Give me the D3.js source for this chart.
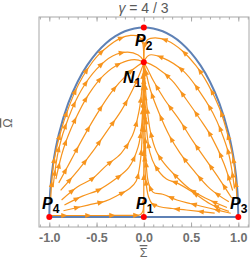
<!DOCTYPE html>
<html>
<head>
<meta charset="utf-8">
<script src="https://cdn.jsdelivr.net/npm/d3@7"></script>
<style>
  body { margin: 0; background: #fff; }
  svg { display: block; }
  .tick text { font-family: "Liberation Sans", Arial, sans-serif; font-weight: bold; font-size: 12.5px; fill: #707070; }
  .tick line { stroke: #a8a8a8; }
</style>
</head>
<body>
<div id="chart"></div>
<script>
var svgWidth = 250;
var svgHeight = 264;

// fixed points
var pointNames = ["P1", "P2", "P3", "P4", "N1"];
var pointSigma = [0, 0, 1, -1, 0];
var pointOmega = [0, 1, 0, 0, 0.816];

// boundary circle
var boundarySigma = [-1, -0.99, -0.96, -0.9, -0.8, -0.7, -0.6, -0.5, -0.4, -0.3, -0.2, -0.1, 0,
  0.1, 0.2, 0.3, 0.4, 0.5, 0.6, 0.7, 0.8, 0.9, 0.96, 0.99, 1];
var boundaryOmega = [0, 0.141, 0.28, 0.436, 0.6, 0.714, 0.8, 0.866, 0.917, 0.954, 0.98, 0.995, 1,
  0.995, 0.98, 0.954, 0.917, 0.866, 0.8, 0.714, 0.6, 0.436, 0.28, 0.141, 0];

// streamlines, each from its start toward the sink [sigma, omega]
var leftStreams = [
  [[-0.985, 0.1], [-0.955, 0.28], [-0.89, 0.43], [-0.79, 0.585], [-0.69, 0.7], [-0.59, 0.785], [-0.49, 0.85], [-0.38, 0.9], [-0.26, 0.94], [-0.14, 0.958], [-0.05, 0.952], [-0.012, 0.92], [-0.002, 0.87], [0, 0.83]],
  [[-0.96, 0.16], [-0.9, 0.36], [-0.8, 0.52], [-0.66, 0.67], [-0.5, 0.78], [-0.33, 0.85], [-0.17, 0.87], [-0.06, 0.855], [-0.01, 0.83], [0, 0.818]],
  [[-0.93, 0.2], [-0.85, 0.36], [-0.73, 0.51], [-0.58, 0.65], [-0.42, 0.75], [-0.25, 0.81], [-0.1, 0.83], [0, 0.818]],
  [[-0.9, 0.18], [-0.77, 0.3], [-0.64, 0.42], [-0.5, 0.54], [-0.34, 0.66], [-0.18, 0.75], [-0.06, 0.8], [0, 0.816]],
  [[-0.88, 0.14], [-0.69, 0.25], [-0.52, 0.36], [-0.38, 0.46], [-0.24, 0.56], [-0.12, 0.67], [-0.04, 0.76], [0, 0.812]],
  [[-0.87, 0.09], [-0.7, 0.16], [-0.55, 0.2], [-0.4, 0.27], [-0.24, 0.336], [-0.12, 0.43], [-0.05, 0.56], [-0.015, 0.7], [0, 0.805]],
  [[-0.84, 0.063], [-0.65, 0.11], [-0.48, 0.142], [-0.3, 0.2], [-0.16, 0.26], [-0.06, 0.37], [-0.02, 0.5], [-0.005, 0.7], [0, 0.8]],
  [[-0.85, 0.033], [-0.59, 0.063], [-0.4, 0.085], [-0.27, 0.116], [-0.15, 0.15], [-0.08, 0.19], [-0.035, 0.3], [-0.012, 0.5], [-0.003, 0.7]],
  [[-0.99, 0.008], [-0.7, 0.008], [-0.4, 0.008], [-0.15, 0.009], [-0.04, 0.012], [-0.01, 0.03], [-0.003, 0.1]]
];

var rightStreams = [
  [[0.985, 0.1], [0.955, 0.28], [0.89, 0.43], [0.8, 0.575], [0.68, 0.7], [0.55, 0.8], [0.4, 0.88], [0.25, 0.93], [0.12, 0.945], [0.04, 0.935], [0.008, 0.9], [0.001, 0.85], [0, 0.83]],
  [[0.96, 0.15], [0.9, 0.33], [0.82, 0.45], [0.73, 0.55], [0.58, 0.67], [0.42, 0.77], [0.2, 0.84], [0.06, 0.855], [0.01, 0.83], [0, 0.818]],
  [[0.94, 0.14], [0.85, 0.28], [0.72, 0.42], [0.59, 0.52], [0.45, 0.62], [0.3, 0.72], [0.13, 0.79], [0.03, 0.815], [0, 0.816]],
  [[0.93, 0.1], [0.8, 0.2], [0.66, 0.3], [0.52, 0.4], [0.38, 0.51], [0.22, 0.62], [0.1, 0.72], [0.03, 0.79], [0, 0.815]],
  [[0.9, 0.08], [0.7, 0.15], [0.52, 0.25], [0.38, 0.34], [0.27, 0.43], [0.16, 0.55], [0.07, 0.67], [0.02, 0.77], [0, 0.812]],
  [[0.88, 0.05], [0.65, 0.1], [0.48, 0.15], [0.35, 0.21], [0.22, 0.28], [0.13, 0.35], [0.07, 0.45], [0.03, 0.6], [0.008, 0.75], [0, 0.808]],
  [[0.9, 0.03], [0.7, 0.07], [0.52, 0.13], [0.35, 0.18], [0.24, 0.2], [0.12, 0.27], [0.065, 0.34], [0.03, 0.46], [0.01, 0.65], [0, 0.8]],
  [[0.92, 0.02], [0.7, 0.046], [0.5, 0.07], [0.35, 0.09], [0.2, 0.12], [0.1, 0.13], [0.05, 0.18], [0.03, 0.25], [0.012, 0.45], [0.003, 0.65]],
  [[0.75, 0.02], [0.45, 0.037], [0.3, 0.045], [0.17, 0.054], [0.09, 0.07], [0.05, 0.107], [0.02, 0.2], [0.008, 0.4]]
];

// separatrix P1 -> N1
var axisStream = [[0, 0.01], [0, 0.3], [0, 0.6], [0, 0.81]];

var xMajor = [-1, -0.5, 0, 0.5, 1];
var yMajor = [0, 0.2, 0.4, 0.6, 0.8, 1];
var xMinor = d3.range(-11, 12).map(d => d / 10);
var yMinor = d3.range(-1, 22).map(d => d / 20);

var frame = { left: 39, right: 249, top: 17, bottom: 227 };

var svg = d3.select("#chart")
  .append("svg")
  .attr("width", svgWidth)
  .attr("height", svgHeight);

var xScale = d3.scaleLinear().domain([-1, 1]).range([49.3, 238.3]);
var yScale = d3.scaleLinear().domain([0, 1]).range([217, 27.5]);

var fmt = d3.format(".1f");

// axes with inside ticks
function addAxis(axis, transform, labels) {
  var g = svg.append("g").attr("transform", transform).call(axis);
  g.select(".domain").remove();
  if (!labels) g.selectAll("text").remove();
  return g;
}

addAxis(d3.axisBottom(xScale).tickValues(xMinor).tickSize(-2.5).tickFormat(""), `translate(0,${frame.bottom})`, false);
addAxis(d3.axisBottom(xScale).tickValues(xMajor).tickSize(-4.5).tickPadding(6).tickFormat(d => fmt(d).replace("−", "-")), `translate(0,${frame.bottom})`, true);
addAxis(d3.axisTop(xScale).tickValues(xMinor).tickSize(-2.5).tickFormat(""), `translate(0,${frame.top})`, false);
addAxis(d3.axisTop(xScale).tickValues(xMajor).tickSize(-4.5).tickFormat(""), `translate(0,${frame.top})`, false);
addAxis(d3.axisLeft(yScale).tickValues(yMinor).tickSize(-2.5).tickFormat(""), `translate(${frame.left},0)`, false);
addAxis(d3.axisLeft(yScale).tickValues(yMajor).tickSize(-4.5).tickPadding(5).tickFormat(fmt), `translate(${frame.left},0)`, true);
addAxis(d3.axisRight(yScale).tickValues(yMinor).tickSize(-2.5).tickFormat(""), `translate(${frame.right},0)`, false);
addAxis(d3.axisRight(yScale).tickValues(yMajor).tickSize(-4.5).tickFormat(""), `translate(${frame.right},0)`, false);

// keep ticks inside frame
svg.selectAll(".tick").filter(function() {
  var t = d3.select(this).attr("transform");
  var m = /translate\(([-\d.]+),([-\d.]+)\)/.exec(t);
  var x = +m[1], y = +m[2];
  return x < frame.left - 0.5 || x > frame.right + 0.5 || (y !== 0 && (y < frame.top - 0.5 || y > frame.bottom + 0.5));
}).remove();

svg.append("rect")
  .attr("x", frame.left)
  .attr("y", frame.top)
  .attr("width", frame.right - frame.left)
  .attr("height", frame.bottom - frame.top)
  .attr("fill", "none")
  .attr("stroke", "#a8a8a8")
  .attr("stroke-width", 1);

var plot = svg.append("g");

// boundary
var line = d3.line().x(d => xScale(d[0])).y(d => yScale(d[1]));
var boundary = boundarySigma.map((s, i) => [s, boundaryOmega[i]]);
plot.append("path")
  .attr("d", line.curve(d3.curveCatmullRom)(boundary))
  .attr("fill", "none")
  .attr("stroke", "#5e81b5")
  .attr("stroke-width", 2);
plot.append("path")
  .attr("d", d3.line().x(d => xScale(d[0])).y(d => yScale(d[1]))([[-1, 0], [1, 0]]))
  .attr("fill", "none")
  .attr("stroke", "#5e81b5")
  .attr("stroke-width", 2);

// streamlines
var streamColor = "#f7941d";
var streamLine = d3.line().x(d => xScale(d[0])).y(d => yScale(d[1])).curve(d3.curveCatmullRom.alpha(0.5));
var allStreams = leftStreams.concat(rightStreams).concat([axisStream]);

allStreams.forEach(function(s) {
  var path = plot.append("path")
    .attr("d", streamLine(s))
    .attr("fill", "none")
    .attr("stroke", streamColor)
    .attr("stroke-width", 1.2);
  var node = path.node();
  var len = node.getTotalLength();
  for (var t = 14; t < len - 6; t += 24) {
    var p0 = node.getPointAtLength(t - 1);
    var p1 = node.getPointAtLength(t + 1);
    var ang = Math.atan2(p1.y - p0.y, p1.x - p0.x) * 180 / Math.PI;
    var p = node.getPointAtLength(t);
    plot.append("path")
      .attr("d", "M3.5,0 L-3,-2.6 L-3,2.6 Z")
      .attr("transform", `translate(${p.x},${p.y}) rotate(${ang})`)
      .attr("fill", streamColor);
  }
});

// fixed points
plot.selectAll(".fixed")
  .data(pointNames)
  .enter()
  .append("circle")
  .attr("cx", (d, i) => xScale(pointSigma[i]))
  .attr("cy", (d, i) => yScale(pointOmega[i]))
  .attr("r", 3)
  .attr("fill", "#ff0000");

// point labels
var labelPos = { P1: [136, 209], P2: [135, 46], P3: [230, 209], P4: [42, 209], N1: [123, 83] };
pointNames.forEach(function(name) {
  var t = svg.append("text")
    .attr("x", labelPos[name][0])
    .attr("y", labelPos[name][1])
    .attr("font-family", "Liberation Sans, Arial, sans-serif")
    .attr("font-weight", "bold")
    .attr("fill", "#000");
  t.append("tspan")
    .attr("font-style", "italic")
    .attr("font-size", 16)
    .text(name[0]);
  t.append("tspan")
    .attr("font-size", 12)
    .attr("dy", 4)
    .text(name[1]);
});

// title
var title = svg.append("text")
  .attr("x", 143.5)
  .attr("y", 13)
  .attr("text-anchor", "middle")
  .attr("font-family", "Liberation Sans, Arial, sans-serif")
  .attr("font-size", 14)
  .attr("fill", "#5a5a5a");
title.append("tspan").attr("font-style", "italic").text("γ");
title.append("tspan").text(" = 4 / 3");

// axis labels
svg.append("text")
  .attr("x", 143.5)
  .attr("y", 257)
  .attr("text-anchor", "middle")
  .attr("font-family", "Liberation Sans, Arial, sans-serif")
  .attr("font-size", 12.5)
  .attr("fill", "#666")
  .style("text-decoration", "overline")
  .text("Σ");

svg.append("text")
  .attr("transform", "translate(12,123) rotate(-90)")
  .attr("text-anchor", "middle")
  .attr("font-family", "Liberation Sans, Arial, sans-serif")
  .attr("font-size", 12.5)
  .attr("fill", "#666")
  .style("text-decoration", "overline")
  .text("Ω");
</script>
</body>
</html>
